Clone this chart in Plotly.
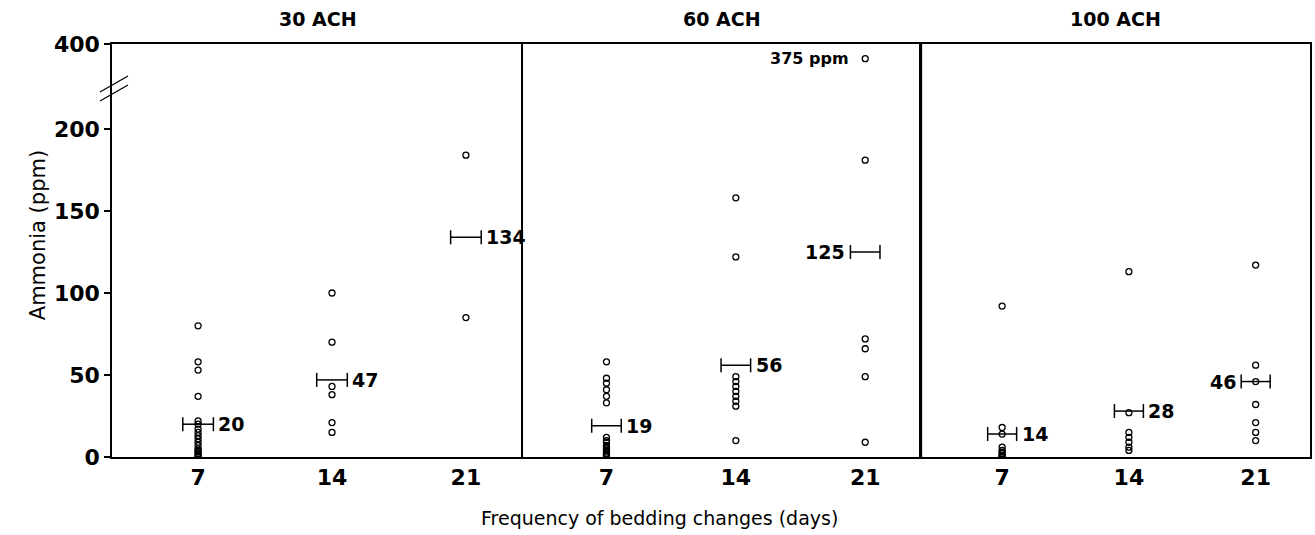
import plotly.graph_objects as go
from plotly.subplots import make_subplots

# ---------------- data ----------------
panel_titles = ["30 ACH", "60 ACH", "100 ACH"]
days = [7, 14, 21]
day_labels = ["7", "14", "21"]

# individual readings, ammonia (ppm)
ach30_d7 = [80, 58, 53, 37, 22, 20, 17, 15, 13, 11, 9, 7, 5, 4, 3, 2, 1, 0]
ach30_d14 = [100, 70, 43, 38, 21, 15]
ach30_d21 = [184, 85]

ach60_d7 = [58, 48, 45, 41, 37, 33, 12, 10, 9, 7, 6, 5, 4, 3, 2, 2, 1, 1]
ach60_d14 = [158, 122, 49, 46, 43, 40, 37, 34, 31, 10]
ach60_d21 = [375, 181, 72, 66, 49, 9]

ach100_d7 = [92, 18, 14, 6, 4, 3, 2, 1, 0, 0]
ach100_d14 = [113, 27, 15, 12, 9, 6, 4]
ach100_d21 = [117, 56, 46, 32, 21, 15, 10]

# mean values printed on the chart
means_30 = [20, 47, 134]
means_60 = [19, 56, 125]
means_100 = [14, 28, 46]

# which side of the mean bar its label sits on
label_side_30 = ["right", "right", "right"]
label_side_60 = ["right", "right", "left"]
label_side_100 = ["right", "right", "left"]

y_tick_values = [0, 50, 100, 150, 200, 400]
y_tick_labels = ["0", "50", "100", "150", "200", "400"]

outlier_note = "375 ppm"
outlier_value = 375

# ---------------- helpers ----------------
BREAK = 200
BREAK_SCALE = 0.245   # compression of the axis above the break
Y_TOP = 251.8


def ty(v):
    """Broken y-axis: linear up to 200, compressed above (400 sits at the top)."""
    if v <= BREAK:
        return v
    if v >= 400:
        return Y_TOP
    return BREAK + (v - BREAK) * BREAK_SCALE


panels = [
    ([ach30_d7, ach30_d14, ach30_d21], means_30, label_side_30),
    ([ach60_d7, ach60_d14, ach60_d21], means_60, label_side_60),
    ([ach100_d7, ach100_d14, ach100_d21], means_100, label_side_100),
]

FONT = "DejaVu Sans"
fig = make_subplots(rows=1, cols=3, shared_yaxes=True, horizontal_spacing=0,
                    column_widths=[412, 398, 390])

BAR_HALF = 0.8
for p, (groups, means, sides) in enumerate(panels, start=1):
    xref = "x" if p == 1 else f"x{p}"
    yref = "y" if p == 1 else f"y{p}"
    for d, vals, m, side in zip(days, groups, means, sides):
        fig.add_trace(go.Scatter(
            x=[d] * len(vals), y=[ty(v) for v in vals], mode="markers",
            marker=dict(symbol="circle-open", size=6, color="black",
                        line=dict(width=1.3, color="black")),
            showlegend=False, hoverinfo="y"), row=1, col=p)
        fig.add_trace(go.Scatter(
            x=[d - BAR_HALF, d + BAR_HALF], y=[m, m], mode="lines+markers",
            line=dict(color="black", width=1.5),
            marker=dict(symbol="line-ns", size=10, color="black",
                        line=dict(width=1.5, color="black")),
            showlegend=False, hoverinfo="skip"), row=1, col=p)
        if side == "right":
            fig.add_annotation(x=d + BAR_HALF, y=m, xref=xref, yref=yref,
                               text=str(m), showarrow=False, xanchor="left",
                               xshift=3, font=dict(family=FONT, size=19,
                                                   color="black", weight="bold"))
        else:
            fig.add_annotation(x=d - BAR_HALF, y=m, xref=xref, yref=yref,
                               text=str(m), showarrow=False, xanchor="right",
                               xshift=-3, font=dict(family=FONT, size=19,
                                                    color="black", weight="bold"))

# outlier note
fig.add_annotation(x=days[2], y=ty(outlier_value), xref="x2", yref="y2",
                   text=outlier_note, showarrow=False, xanchor="right",
                   xshift=-14, font=dict(family=FONT, size=16, color="black",
                                         weight="bold"))

# panel titles
for p, title in enumerate(panel_titles, start=1):
    dom = "x domain" if p == 1 else f"x{p} domain"
    fig.add_annotation(x=0.5, y=1, xref=dom, yref="paper", yanchor="bottom",
                       yshift=12, text=title, showarrow=False,
                       font=dict(family=FONT, size=19, color="black",
                                 weight="bold"))

# axes
for p in (1, 2, 3):
    fig.update_xaxes(range=[2.5, 24], tickvals=days, ticktext=day_labels,
                     showline=True, linecolor="black", linewidth=2, mirror=True,
                     ticks="", showgrid=False, zeroline=False,
                     tickfont=dict(family=FONT, size=22, color="black",
                                   weight="bold"),
                     row=1, col=p)
    fig.update_yaxes(range=[0, Y_TOP], showline=True, linecolor="black",
                     linewidth=1.5, mirror=(p == 3), showgrid=False,
                     zeroline=False, row=1, col=p)

fig.update_yaxes(tickvals=[ty(v) for v in y_tick_values], ticktext=y_tick_labels,
                 ticks="outside", ticklen=6, tickwidth=1.5, tickcolor="black",
                 tickfont=dict(family=FONT, size=22, color="black", weight="bold"),
                 row=1, col=1)
fig.update_yaxes(ticks="", showticklabels=False, row=1, col=2)
fig.update_yaxes(ticks="", showticklabels=False, row=1, col=3)

# thick divider between 60 and 100 ACH panels
fig.add_shape(type="line", xref="x2 domain", yref="paper", x0=1, x1=1, y0=0,
              y1=1, line=dict(color="black", width=3))

# axis-break marks on the left axis
for off in (0, 9):
    fig.add_shape(type="line", xref="paper", yref="y", xsizemode="pixel",
                  ysizemode="pixel", xanchor=0, yanchor=225,
                  x0=-12, x1=16, y0=-4 - off, y1=12 - off,
                  line=dict(color="black", width=1.3))

# axis titles
fig.add_annotation(x=0.457, y=0, xref="paper", yref="paper", yanchor="middle",
                   yshift=-61, text="Frequency of bedding changes (days)",
                   showarrow=False,
                   font=dict(family=FONT, size=19, color="black"))
fig.add_annotation(x=-0.0733, y=0.5375, xref="paper", yref="paper",
                   text="Ammonia (ppm)", textangle=-90, showarrow=False,
                   font=dict(family=FONT, size=21, color="black"))

fig.update_layout(width=1315, height=535, plot_bgcolor="white",
                  paper_bgcolor="white",
                  margin=dict(l=112, r=3, t=44, b=78), showlegend=False)

fig.write_html("out.html")
